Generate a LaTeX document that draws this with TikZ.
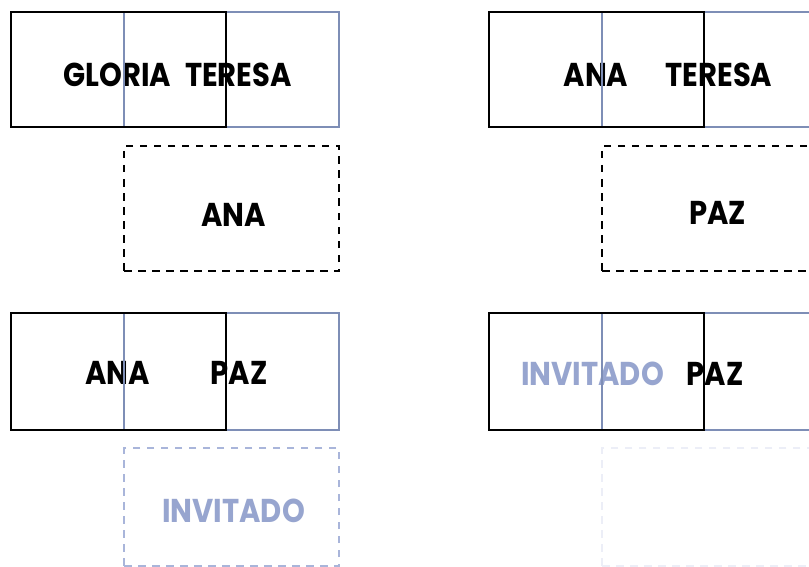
\documentclass[tikz,border=0pt]{standalone}
\usepackage{fontspec}
\newfontfamily\labfont{Poppins}[FakeStretch=0.88]
\definecolor{lineblue}{HTML}{7E8EB6}
\definecolor{txtblue}{HTML}{97A5CF}
\definecolor{dashblue}{HTML}{A9B5DA}
\definecolor{faintblue}{HTML}{ECEEF7}
\begin{document}
\begin{tikzpicture}[x=1pt,y=-1pt,
  box/.style={rectangle, minimum width=215pt, minimum height=115pt, inner sep=0pt, outer sep=0pt},
  blackbox/.style={box, draw=black, line width=2.2pt},
  bluebox/.style={box, draw=lineblue, line width=1.5pt},
  dbox/.style={box, minimum height=125pt, draw=black, line width=1.9pt, dash pattern=on 7.5pt off 6.5pt},
  lbox/.style={box, minimum height=118pt, draw=dashblue, line width=1.7pt, dash pattern=on 7.5pt off 6.5pt},
  fbox/.style={box, minimum height=118pt, draw=faintblue, line width=1.7pt, dash pattern=on 7.5pt off 6.5pt},
  word/.style={anchor=base, inner sep=0pt, font=\labfont\bfseries\fontsize{33}{33}\selectfont, text=black},
  bword/.style={word, text=txtblue}]
\useasboundingbox (0,0) rectangle (809,567);
\clip (0,0) rectangle (809,567);
\fill[white] (0,0) rectangle (809,567);
% ---- text
\node[word] (t1) at (117.5,87) {GLORIA};
\node[word] (t2) at (238.5,87) {TERESA};
\node[word] (t3) at (233.5,226) {ANA};
\node[word] (t4) at (596,87) {ANA};
\node[word] (t5) at (719,87) {TERESA};
\node[word] (t6) at (717.5,225) {PAZ};
\node[word] (t7) at (117.5,384) {ANA};
\node[word] (t8) at (239,384) {PAZ};
\node[bword] (t9) at (233.5,522) {INVITADO};
\node[bword] (t10) at (592.5,385) {INVITADO};
\node[word] (t11) at (715,385) {PAZ};
% ---- boxes top-left
\node[bluebox] (b1) at (231.5,69.5) {};
\node[blackbox] (k1) at (118.5,69.5) {};
\node[dbox] (d1) at (231.5,208.5) {};
% ---- boxes top-right
\node[bluebox] (b2) at (709.5,69.5) {};
\node[blackbox] (k2) at (596.5,69.5) {};
\node[dbox] (d2) at (709.5,208.5) {};
% ---- boxes bottom-left
\node[bluebox, minimum height=117pt] (b3) at (231.5,371.5) {};
\node[blackbox, minimum height=117pt] (k3) at (118.5,371.5) {};
\node[lbox] (d3) at (231.5,507) {};
% ---- boxes bottom-right
\node[bluebox, minimum height=117pt] (b4) at (709.5,371.5) {};
\node[blackbox, minimum height=117pt] (k4) at (596.5,371.5) {};
\node[fbox] (d4) at (709.5,507) {};
\end{tikzpicture}
\end{document}
